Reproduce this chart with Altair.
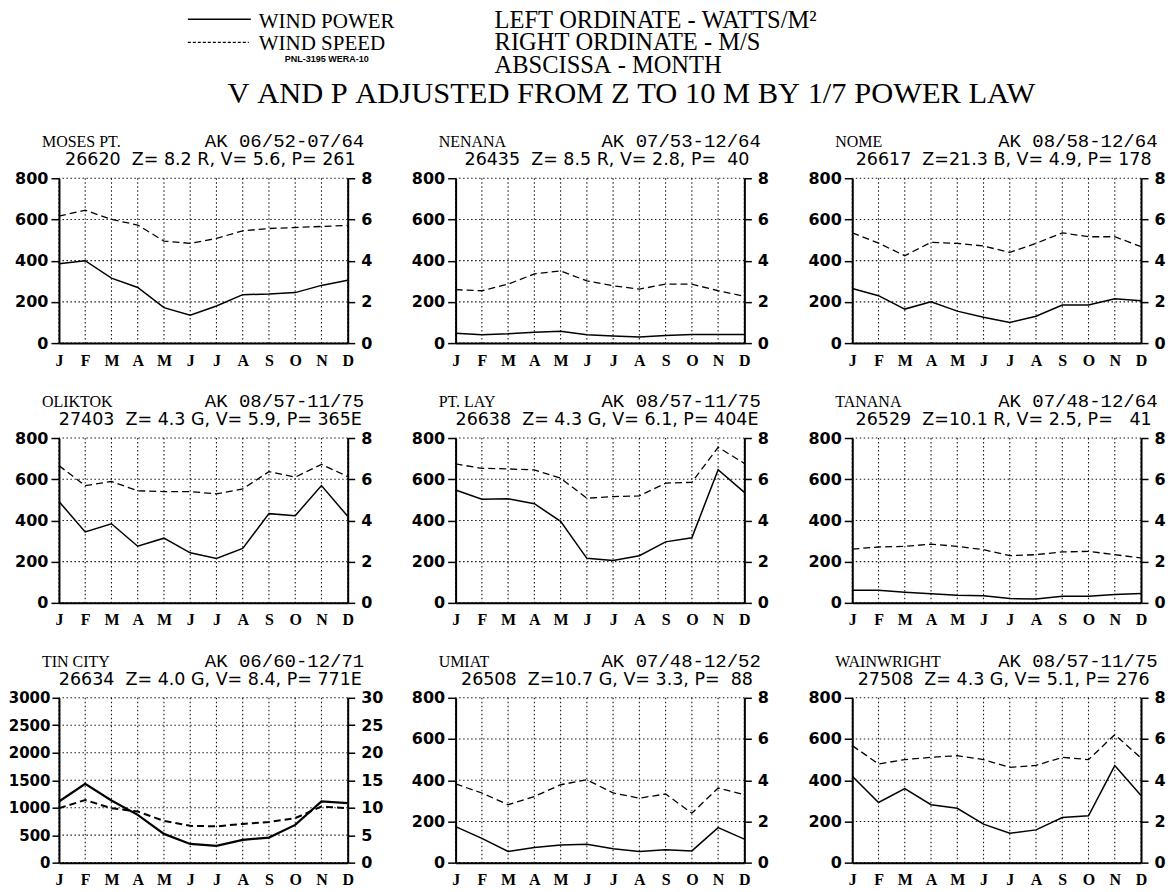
import altair as alt
import pandas as pd

SERIF = "Liberation Serif"
SANS = "DejaVu Sans"
MONO = "Liberation Mono"

MONTHS = ["J", "F", "M", "A", "M", "J", "J", "A", "S", "O", "N", "D"]
MONTH_NUM = list(range(1, 13))

STATIONS = ["MOSES PT.", "NENANA", "NOME",
            "OLIKTOK", "PT. LAY", "TANANA",
            "TIN CITY", "UMIAT", "WAINWRIGHT"]
PERIODS = ["AK 06/52-07/64", "AK 07/53-12/64", "AK 08/58-12/64",
           "AK 08/57-11/75", "AK 08/57-11/75", "AK 07/48-12/64",
           "AK 06/60-12/71", "AK 07/48-12/52", "AK 08/57-11/75"]
INFO = ["26620  Z= 8.2 R, V= 5.6, P= 261",
        "26435  Z= 8.5 R, V= 2.8, P=  40",
        "26617  Z=21.3 B, V= 4.9, P= 178",
        "27403  Z= 4.3 G, V= 5.9, P= 365E",
        "26638  Z= 4.3 G, V= 6.1, P= 404E",
        "26529  Z=10.1 R, V= 2.5, P=   41",
        "26634  Z= 4.0 G, V= 8.4, P= 771E",
        "26508  Z=10.7 G, V= 3.3, P=  88",
        "27508  Z= 4.3 G, V= 5.1, P= 276"]

# wind power (W/m^2) and wind speed (m/s) by month
MOSES_P = [385, 400, 315, 270, 172, 135, 180, 235, 238, 245, 280, 305]
MOSES_V = [6.16, 6.45, 6.0, 5.73, 4.95, 4.84, 5.08, 5.45, 5.56, 5.61, 5.66, 5.71]
NENANA_P = [48, 40, 45, 53, 58, 40, 34, 29, 37, 42, 42, 42]
NENANA_V = [2.59, 2.54, 2.86, 3.36, 3.5, 3.02, 2.78, 2.62, 2.86, 2.86, 2.54, 2.27]
NOME_P = [265, 230, 165, 200, 155, 125, 100, 130, 185, 185, 215, 205]
NOME_V = [5.35, 4.85, 4.24, 4.89, 4.84, 4.71, 4.4, 4.84, 5.35, 5.16, 5.16, 4.68]
OLIKTOK_P = [492, 344, 384, 275, 314, 243, 215, 264, 433, 423, 569, 420]
OLIKTOK_V = [6.66, 5.69, 5.89, 5.44, 5.4, 5.4, 5.29, 5.53, 6.37, 6.1, 6.72, 6.13]
PTLAY_P = [548, 503, 505, 481, 396, 216, 206, 229, 296, 316, 646, 536]
PTLAY_V = [6.74, 6.53, 6.5, 6.45, 6.05, 5.08, 5.16, 5.19, 5.81, 5.85, 7.55, 6.77]
TANANA_P = [61, 61, 52, 44, 37, 35, 21, 19, 32, 32, 40, 45]
TANANA_V = [2.61, 2.71, 2.74, 2.85, 2.74, 2.58, 2.29, 2.34, 2.47, 2.5, 2.34, 2.18]
TINCITY_P = [1113, 1436, 1131, 870, 523, 341, 304, 414, 456, 687, 1113, 1083]
TINCITY_V = [9.9, 11.4, 9.9, 9.3, 7.6, 6.7, 6.6, 7.05, 7.4, 8.1, 10.2, 9.9]
UMIAT_P = [175, 118, 54, 73, 86, 89, 67, 54, 62, 57, 170, 114]
UMIAT_V = [3.82, 3.38, 2.81, 3.21, 3.78, 4.02, 3.38, 3.13, 3.33, 2.4, 3.62, 3.29]
WAIN_P = [419, 292, 359, 281, 264, 187, 143, 159, 219, 227, 471, 326]
WAIN_V = [5.68, 4.79, 5.0, 5.11, 5.19, 5.0, 4.62, 4.72, 5.11, 5.0, 6.21, 5.08]

POWER = [MOSES_P, NENANA_P, NOME_P, OLIKTOK_P, PTLAY_P, TANANA_P, TINCITY_P, UMIAT_P, WAIN_P]
SPEED = [MOSES_V, NENANA_V, NOME_V, OLIKTOK_V, PTLAY_V, TANANA_V, TINCITY_V, UMIAT_V, WAIN_V]
PMAX = [800, 800, 800, 800, 800, 800, 3000, 800, 800]
PSTEP = [200, 200, 200, 200, 200, 200, 500, 200, 200]
VMAX = [8, 8, 8, 8, 8, 8, 30, 8, 8]
VSTEP = [2, 2, 2, 2, 2, 2, 5, 2, 2]

HEADER_LEFT = ["WIND POWER", "WIND SPEED"]
HEADER_RIGHT = ["LEFT ORDINATE - WATTS/M\u00b2", "RIGHT ORDINATE - M/S", "ABSCISSA - MONTH"]
HEADER_NOTE = "PNL-3195 WERA-10"
HEADER_MAIN = "V AND P ADJUSTED FROM Z TO 10 M BY 1/7 POWER LAW"

W = 289
H = 165
ONE = pd.DataFrame({"k": [0]})
LABEL_EXPR = "[" + ",".join("'%s'" % m for m in MONTHS) + "][datum.value - 1]"
GRID_STYLE = dict(color="black", strokeWidth=1.1, strokeDash=[1.5, 2.5], opacity=0.9)


def nb(s):
    return s.replace(" ", "\u00a0")


def text_layer(txt, x, y, size, align="left", font=SERIF, weight="normal"):
    return alt.Chart(ONE).mark_text(
        text=nb(txt), align=align, baseline="alphabetic", font=font,
        fontSize=size, fontWeight=weight, color="black"
    ).encode(x=alt.value(x), y=alt.value(y))


def x_axis():
    return alt.Axis(values=MONTH_NUM, labelExpr=LABEL_EXPR, grid=False,
                    domainColor="black", domainWidth=2, ticks=False,
                    labelFont=SERIF, labelFontSize=16, labelFontWeight="bold",
                    labelColor="black", labelPadding=9, labelFlush=False,
                    labelOverlap=False, title=None)


def panel(i):
    df = pd.DataFrame({"m": MONTH_NUM, "p": POWER[i], "v": SPEED[i]})
    pticks = list(range(0, PMAX[i] + 1, PSTEP[i]))
    big = PMAX[i] > 1000
    lw = 2.2 if big else 1.5
    xscale = alt.Scale(domain=[1, 12], nice=False, zero=False)
    pscale = alt.Scale(domain=[0, PMAX[i]], nice=False)
    laxis = alt.Axis(values=pticks, grid=False, format="d",
                     domainColor="black", domainWidth=2, tickColor="black",
                     tickSize=7 if big else 8, tickWidth=1.5, labelFont=SANS,
                     labelFontSize=15 if big else 16,
                     labelFontWeight="bold", labelColor="black",
                     labelPadding=2 if big else 3,
                     labelOverlap=False, title=None)
    raxis = alt.Axis(orient="right", values=list(range(0, VMAX[i] + 1, VSTEP[i])),
                     format="d",
                     grid=False, domainColor="black", domainWidth=2,
                     tickColor="black", tickSize=7, tickWidth=1.5,
                     labelFont=SANS, labelFontSize=16, labelFontWeight="bold",
                     labelColor="black", labelPadding=6, labelOverlap=False,
                     title=None)
    pl = alt.Chart(df).mark_line(color="black", strokeWidth=lw).encode(
        x=alt.X("m:Q", scale=xscale, axis=x_axis()),
        y=alt.Y("p:Q", scale=pscale, axis=laxis),
    )
    vl = alt.Chart(df).mark_line(color="black", strokeWidth=lw - 0.2,
                                 strokeDash=[7, 4]).encode(
        x=alt.X("m:Q", scale=xscale, axis=x_axis()),
        y=alt.Y("v:Q", scale=alt.Scale(domain=[0, VMAX[i]], nice=False), axis=raxis),
    )
    vgrid = alt.Chart(pd.DataFrame({"m": MONTH_NUM})).mark_rule(**GRID_STYLE).encode(
        x=alt.X("m:Q", scale=xscale, axis=x_axis()))
    hgrid = alt.Chart(pd.DataFrame({"g": pticks})).mark_rule(**GRID_STYLE).encode(
        y=alt.Y("g:Q", scale=pscale, axis=None))
    t1 = text_layer(STATIONS[i], -17, -31, 16)
    t2 = text_layer(PERIODS[i], 146, -31, 19, font=MONO)
    t3 = text_layer(INFO[i], W / 2 + 7, -13, 17.5, align="center", font=SANS)
    return alt.layer(pl, vl, vgrid, hgrid, t1, t2, t3).resolve_scale(
        y="independent").properties(width=W, height=H)


header = alt.layer(
    alt.Chart(ONE).mark_rule(color="black", strokeWidth=1.5).encode(
        x=alt.value(129), x2=alt.value(192), y=alt.value(9)),
    alt.Chart(ONE).mark_rule(color="black", strokeWidth=1.2, strokeDash=[3, 2]).encode(
        x=alt.value(129), x2=alt.value(190), y=alt.value(32)),
    text_layer(HEADER_LEFT[0], 200, 18, 21),
    text_layer(HEADER_LEFT[1], 200, 40, 21),
    text_layer(HEADER_NOTE, 226, 52, 9, font="Liberation Sans", weight="bold"),
    text_layer(HEADER_RIGHT[0], 436, 18, 24.5),
    text_layer(HEADER_RIGHT[1], 436, 40, 24.5),
    text_layer(HEADER_RIGHT[2], 436, 63, 24.5),
    text_layer(HEADER_MAIN, 573, 93, 30.5, align="center"),
).properties(width=3 * W + 2 * 108, height=75)

grid = alt.concat(*[panel(i) for i in range(9)], columns=3,
                  spacing={"row": 95, "column": 108}, bounds="flush")

chart = alt.vconcat(header, grid, spacing=93, bounds="flush").properties(
    padding={"left": 0, "top": 0, "right": 0, "bottom": 0}
).configure_view(stroke=None)

chart.save("out.html", embed_options={"renderer": "svg", "actions": False})
